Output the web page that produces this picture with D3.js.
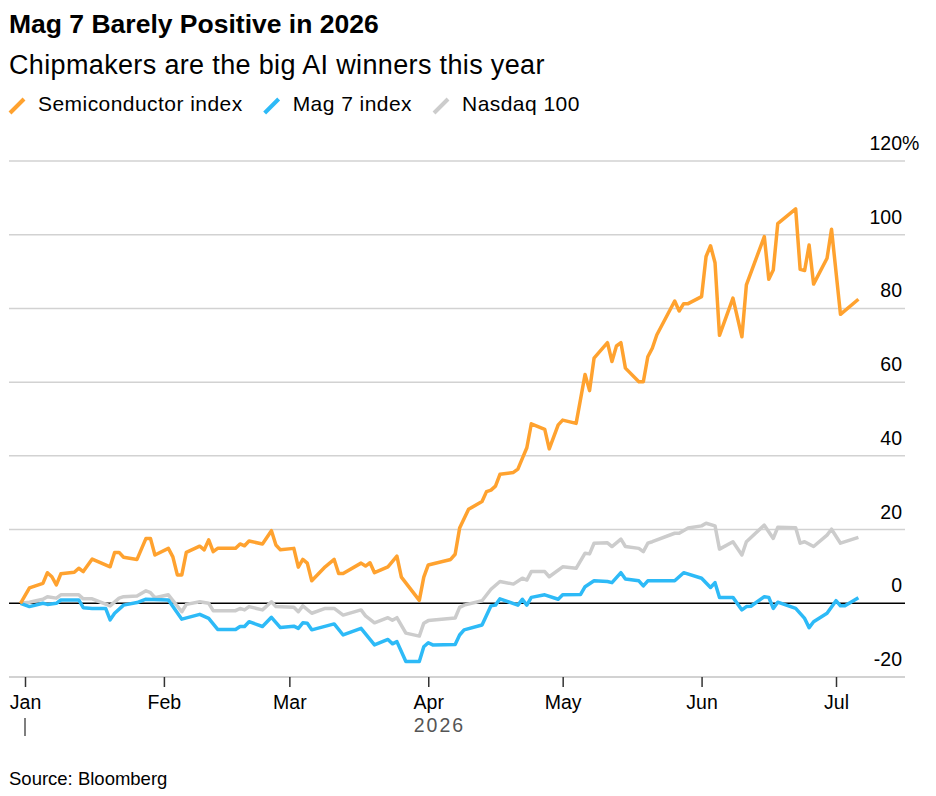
<!DOCTYPE html>
<html>
<head>
<meta charset="utf-8">
<script src="https://cdn.jsdelivr.net/npm/d3@7"></script>
<style>
  body { margin: 0; background: #fff; }
  svg text { font-family: "Liberation Sans", Arial, sans-serif; }
</style>
</head>
<body>
<svg id="chart"></svg>
<script>
// Data (cumulative % change since end of 2025)
let semiDates = ["2025-12-31","2026-01-02","2026-01-05","2026-01-06","2026-01-07","2026-01-08","2026-01-09","2026-01-12","2026-01-13","2026-01-14","2026-01-16","2026-01-20","2026-01-21","2026-01-22","2026-01-23","2026-01-26","2026-01-28","2026-01-29","2026-01-30","2026-02-02","2026-02-03","2026-02-04","2026-02-05","2026-02-06","2026-02-09","2026-02-10","2026-02-11","2026-02-12","2026-02-13","2026-02-17","2026-02-18","2026-02-19","2026-02-20","2026-02-23","2026-02-25","2026-02-26","2026-02-27","2026-03-02","2026-03-03","2026-03-04","2026-03-05","2026-03-06","2026-03-09","2026-03-11","2026-03-12","2026-03-13","2026-03-17","2026-03-18","2026-03-19","2026-03-20","2026-03-23","2026-03-25","2026-03-26","2026-03-30","2026-03-31","2026-04-01","2026-04-06","2026-04-07","2026-04-08","2026-04-10","2026-04-13","2026-04-14","2026-04-15","2026-04-16","2026-04-17","2026-04-20","2026-04-21","2026-04-22","2026-04-23","2026-04-24","2026-04-27","2026-04-28","2026-04-30","2026-05-01","2026-05-04","2026-05-06","2026-05-07","2026-05-08","2026-05-11","2026-05-12","2026-05-13","2026-05-14","2026-05-15","2026-05-18","2026-05-19","2026-05-20","2026-05-21","2026-05-22","2026-05-26","2026-05-27","2026-05-28","2026-05-29","2026-06-01","2026-06-02","2026-06-03","2026-06-04","2026-06-05","2026-06-08","2026-06-10","2026-06-11","2026-06-15","2026-06-16","2026-06-17","2026-06-18","2026-06-22","2026-06-23","2026-06-24","2026-06-25","2026-06-26","2026-06-29","2026-06-30","2026-07-02","2026-07-06"];
let semiValues = [0,4.2,5.4,8.3,7.2,5.0,8.0,8.4,9.5,8.6,12.0,9.9,13.8,13.8,12.5,11.9,17.6,17.6,13.1,14.9,12.6,7.7,7.7,13.8,15.5,14.5,17.2,14.0,14.9,14.9,16.1,15.6,16.9,16.1,19.7,15.8,14.5,14.9,9.8,11.9,10.9,6.1,9.9,11.9,8.1,8.1,10.9,10.1,11.0,8.3,9.9,12.8,7.1,0.8,7.1,10.4,11.9,13.3,20.4,25.5,27.6,30.3,30.7,31.8,35.0,35.5,36.4,39.3,42.2,48.7,47.2,41.9,48.4,49.7,48.8,62.1,57.7,66.5,70.7,65.6,69.8,70.7,63.8,60.1,60.1,66.9,69.2,72.8,82.0,79.3,81.3,81.3,83.2,94.1,97.0,92.4,72.7,82.8,72.3,86.4,99.5,87.9,90.4,103.0,107.0,90.6,90.3,97.2,86.6,93.6,101.5,78.4,82.5];

let mag7Dates = ["2025-12-31","2026-01-02","2026-01-05","2026-01-06","2026-01-08","2026-01-09","2026-01-13","2026-01-14","2026-01-16","2026-01-19","2026-01-20","2026-01-21","2026-01-23","2026-01-26","2026-01-28","2026-02-02","2026-02-05","2026-02-09","2026-02-11","2026-02-13","2026-02-17","2026-02-18","2026-02-19","2026-02-20","2026-02-23","2026-02-25","2026-02-27","2026-03-02","2026-03-03","2026-03-04","2026-03-05","2026-03-06","2026-03-11","2026-03-13","2026-03-17","2026-03-20","2026-03-23","2026-03-24","2026-03-25","2026-03-27","2026-03-30","2026-03-31","2026-04-01","2026-04-02","2026-04-07","2026-04-08","2026-04-09","2026-04-13","2026-04-15","2026-04-16","2026-04-17","2026-04-21","2026-04-22","2026-04-23","2026-04-24","2026-04-27","2026-04-30","2026-05-01","2026-05-05","2026-05-06","2026-05-08","2026-05-11","2026-05-12","2026-05-14","2026-05-15","2026-05-18","2026-05-19","2026-05-20","2026-05-26","2026-05-28","2026-06-01","2026-06-03","2026-06-04","2026-06-05","2026-06-08","2026-06-10","2026-06-11","2026-06-12","2026-06-15","2026-06-16","2026-06-17","2026-06-18","2026-06-22","2026-06-24","2026-06-25","2026-06-26","2026-06-29","2026-07-01","2026-07-02","2026-07-03","2026-07-06"];
let mag7Values = [0,-0.9,0,-0.3,0,0.9,0.9,-1.2,-1.4,-1.4,-4.5,-2.7,-0.5,0.2,1.1,0.9,-4.3,-3.0,-4.1,-7.1,-7.1,-6.3,-6.3,-5.0,-6.3,-3.8,-6.6,-6.2,-6.8,-5.3,-5.4,-7.2,-5.6,-8.6,-6.8,-11.3,-9.8,-11.0,-10.4,-15.8,-15.8,-11.8,-10.7,-11.3,-11.2,-8.6,-7.2,-5.9,-0.7,-0.5,1.2,-0.5,1.1,-0.5,1.6,2.3,1.1,2.3,2.4,4.5,6.1,5.9,5.6,8.3,6.6,6.1,4.7,6.1,6.1,8.3,6.8,4.3,5.6,1.6,1.6,-1.8,-0.9,-0.8,1.8,1.6,-1.4,0.3,-1.4,-4.1,-6.6,-5.0,-2.7,0.7,-0.7,-0.7,1.5];

let ndxDates = ["2025-12-31","2026-01-02","2026-01-05","2026-01-06","2026-01-08","2026-01-09","2026-01-13","2026-01-14","2026-01-16","2026-01-20","2026-01-22","2026-01-23","2026-01-26","2026-01-28","2026-01-29","2026-01-30","2026-02-02","2026-02-05","2026-02-06","2026-02-09","2026-02-11","2026-02-12","2026-02-17","2026-02-18","2026-02-19","2026-02-20","2026-02-23","2026-02-25","2026-02-26","2026-03-02","2026-03-03","2026-03-04","2026-03-06","2026-03-09","2026-03-11","2026-03-13","2026-03-17","2026-03-18","2026-03-20","2026-03-23","2026-03-24","2026-03-25","2026-03-27","2026-03-30","2026-03-31","2026-04-01","2026-04-07","2026-04-08","2026-04-09","2026-04-13","2026-04-15","2026-04-17","2026-04-20","2026-04-22","2026-04-23","2026-04-24","2026-04-27","2026-04-28","2026-05-01","2026-05-04","2026-05-06","2026-05-07","2026-05-08","2026-05-11","2026-05-12","2026-05-14","2026-05-15","2026-05-18","2026-05-19","2026-05-20","2026-05-21","2026-05-26","2026-05-27","2026-05-29","2026-06-01","2026-06-02","2026-06-04","2026-06-05","2026-06-08","2026-06-10","2026-06-11","2026-06-15","2026-06-17","2026-06-18","2026-06-22","2026-06-23","2026-06-24","2026-06-26","2026-06-29","2026-06-30","2026-07-02","2026-07-06"];
let ndxValues = [0,0.3,1.1,1.8,1.4,2.3,2.3,1.2,1.2,-0.7,1.4,1.8,2.0,3.4,2.9,1.5,2.3,-2.3,-0.3,0.4,0.0,-2.0,-2.0,-1.4,-1.8,-0.9,-1.8,0.4,-0.9,-1.1,-2.3,-0.7,-2.7,-1.4,-1.4,-3.2,-1.8,-3.4,-5.3,-3.9,-4.6,-3.9,-8.1,-8.9,-5.4,-4.7,-4.0,-1.1,-0.5,0.7,3.8,5.9,5.2,6.8,6.3,8.6,8.6,7.2,9.9,9.5,13.6,13.4,16.3,16.4,15.4,17.4,15.4,14.9,14.0,16.3,16.7,19.0,19.0,20.4,21.0,21.7,21.0,14.7,16.7,13.1,16.7,21.2,17.6,20.6,20.5,16.3,16.7,15.4,18.5,20.1,16.3,17.9];

let seriesNames = ["Semiconductor index", "Mag 7 index", "Nasdaq 100"];
let seriesColors = ["#ffa22f", "#2dbaf7", "#cccccc"];
let yTicks = [-20, 0, 20, 40, 60, 80, 100, 120];
let monthTicks = ["2026-01-01","2026-02-01","2026-03-01","2026-04-01","2026-05-01","2026-06-01","2026-07-01"];
let yearLabel = "2026";

let width = 936, height = 796;
let parse = d3.timeParse("%Y-%m-%d");

let toPoints = (dates, values) => dates.map((d, i) => ({ date: parse(d), value: values[i] }));
let series = [
  { name: seriesNames[2], color: seriesColors[2], points: toPoints(ndxDates, ndxValues) },
  { name: seriesNames[1], color: seriesColors[1], points: toPoints(mag7Dates, mag7Values) },
  { name: seriesNames[0], color: seriesColors[0], points: toPoints(semiDates, semiValues) }
];

// Scales
let xScale = d3.scaleTime()
  .domain([parse(monthTicks[0]), parse(monthTicks[monthTicks.length - 1])])
  .range([25, 836]);

let yScale = d3.scaleLinear()
  .domain([-20, 120])
  .range([677, 161]);

let gridLeft = 9, gridRight = 905;

// Setup SVG
let svg = d3.select("#chart")
  .attr("width", width)
  .attr("height", height)
  .attr("viewBox", [0, 0, width, height]);

// Title, subtitle
svg.append("text")
  .attr("x", 9).attr("y", 33)
  .style("font-size", "26.5px").style("font-weight", "bold")
  .attr("fill", "#000")
  .text("Mag 7 Barely Positive in 2026");

svg.append("text")
  .attr("x", 9).attr("y", 74)
  .style("font-size", "27px").style("letter-spacing", "0.35px")
  .attr("fill", "#000")
  .text("Chipmakers are the big AI winners this year");

// Legend
let legend = svg.append("g");
let lx = 10;
seriesNames.forEach((name, i) => {
  legend.append("line")
    .attr("x1", lx).attr("y1", 113)
    .attr("x2", lx + 14).attr("y2", 99)
    .attr("stroke", seriesColors[i])
    .attr("stroke-width", 4);
  let t = legend.append("text")
    .attr("x", lx + 28).attr("y", 111)
    .style("font-size", "21px").style("letter-spacing", "0.45px")
    .attr("fill", "#000")
    .text(name);
  lx += 28 + t.node().getComputedTextLength() + 22;
});

// Gridlines + y labels
let grid = svg.append("g");
yTicks.forEach(v => {
  grid.append("line")
    .attr("x1", gridLeft).attr("x2", gridRight)
    .attr("y1", yScale(v)).attr("y2", yScale(v))
    .attr("stroke", v === 0 ? "#000" : "#d2d2d2")
    .attr("stroke-width", v === 0 ? 1.5 : (v === -20 ? 2 : 1.5));
  grid.append("text")
    .attr("x", 902).attr("y", yScale(v) - 11)
    .attr("text-anchor", "end")
    .style("font-size", "19.5px")
    .attr("fill", "#000")
    .text(v);
  if (v === yTicks[yTicks.length - 1]) {
    grid.append("text")
      .attr("x", 902).attr("y", yScale(v) - 11)
      .style("font-size", "19.5px")
      .attr("fill", "#000")
      .text("%");
  }
});

// Lines
let line = d3.line()
  .x(d => xScale(d.date))
  .y(d => yScale(d.value));

svg.append("g")
  .selectAll("path")
  .data(series)
  .join("path")
  .attr("d", d => line(d.points))
  .attr("fill", "none")
  .attr("stroke", d => d.color)
  .attr("stroke-width", 3.5)
  .attr("stroke-linejoin", "round");

// X axis
let xAxis = d3.axisBottom(xScale)
  .tickValues(monthTicks.map(parse))
  .tickFormat(d3.timeFormat("%b"))
  .tickSize(10)
  .tickPadding(8);

let gx = svg.append("g")
  .attr("transform", `translate(0,${yScale(-20)})`)
  .call(xAxis);
gx.select(".domain").remove();
gx.selectAll(".tick line").attr("stroke", "#333").attr("stroke-width", 1.5);
gx.selectAll("text")
  .style("font-size", "19.5px")
  .style("font-family", "'Liberation Sans', Arial, sans-serif")
  .attr("fill", "#000");

// Year marker
let x0 = xScale(parse(monthTicks[0]));
svg.append("line")
  .attr("x1", x0).attr("x2", x0)
  .attr("y1", 718).attr("y2", 736)
  .attr("stroke", "#555")
  .attr("stroke-width", 1.5);

let xFirst = xScale(parse(semiDates[0]));
let xLast = xScale(parse(semiDates[semiDates.length - 1]));
svg.append("text")
  .attr("x", (xFirst + xLast) / 2).attr("y", 732)
  .attr("text-anchor", "middle")
  .style("font-size", "19.5px").style("letter-spacing", "2px")
  .attr("fill", "#555")
  .text(yearLabel);

// Source
svg.append("text")
  .attr("x", 9).attr("y", 785)
  .style("font-size", "18.5px")
  .attr("fill", "#000")
  .text("Source: Bloomberg");
</script>
</body>
</html>
